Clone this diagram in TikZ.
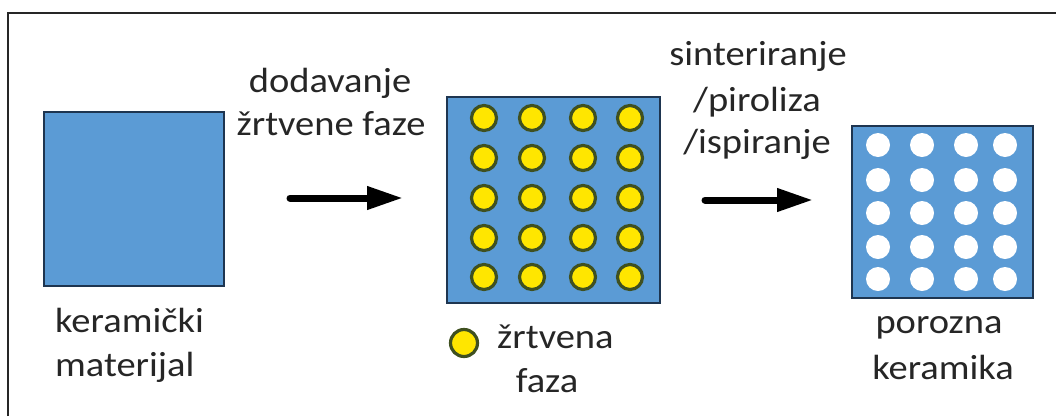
\documentclass[tikz,border=0pt]{standalone}
\usepackage{fontspec}
\setmainfont{Carlito}[FakeStretch=1.1]
\usetikzlibrary{arrows.meta}
\definecolor{ceramic}{HTML}{5B9BD5}
\definecolor{boxedge}{HTML}{1E3550}
\definecolor{sacfill}{HTML}{FFE600}
\definecolor{sacedge}{HTML}{3F5020}
\definecolor{txt}{HTML}{262626}
\tikzset{
  block/.style={fill=ceramic, draw=boxedge, line width=2.5pt},
  particle/.style={circle, fill=sacfill, draw=sacedge, line width=3.2pt, minimum size=25pt, inner sep=0pt},
  pore/.style={circle, fill=white, draw=none, minimum size=24pt, inner sep=0pt},
  lbl/.style={text=txt, font=\fontsize{35}{42}\selectfont, inner sep=0pt, anchor=base},
  flow/.style={line width=7pt, -{Triangle[length=36pt,width=22pt]}, line cap=round},
}
\begin{document}
\begin{tikzpicture}[x=1pt,y=-1pt]
\useasboundingbox (0,0) rectangle (1056,416);
% frame (top and left edges)
\draw[line width=2pt, draw=black!85] (8,416) -- (8,13) -- (1056,13);

% ceramic block
\node[block, minimum width=180pt, minimum height=174pt, inner sep=0pt] (b1) at (134,199) {};
% block with sacrificial phase
\node[block, minimum width=213pt, minimum height=206pt, inner sep=0pt] (b2) at (553.5,200) {};
\foreach \x [count=\i] in {484,532,583,630}{
  \foreach \y [count=\j] in {118,158,198,238,277}{
    \node[particle] (p\i\j) at (\x,\y) {};
  }
}
% porous ceramic
\node[block, minimum width=181pt, minimum height=172pt, inner sep=0pt] (b3) at (942.5,212) {};
\foreach \x [count=\i] in {878,922,966,1005}{
  \foreach \y [count=\j] in {145,180,213,247,279}{
    \node[pore] (h\i\j) at (\x,\y) {};
  }
}

% arrows
\coordinate (a1s) at (290,198);
\coordinate (a1e) at (403,198);
\coordinate (a2s) at (705,200);
\coordinate (a2e) at (813,200);
\draw[flow] (a1s) -- (a1e);
\draw[flow] (a2s) -- (a2e);

% labels
\node[lbl] (t1a) at (330,92) {dodavanje};
\node[lbl] (t1b) at (331,135) {žrtvene faze};
\node[lbl] (t2a) at (758,65) {sinteriranje};
\node[lbl] (t2b) at (757,111) {/piroliza};
\node[lbl] (t2c) at (757,153) {/ispiranje};
\node[lbl, anchor=base west] (t3a) at (55,332) {keramički};
\node[lbl, anchor=base west] (t3b) at (55,376) {materijal};
\node[particle, minimum size=27pt] (leg) at (464,343) {};
\node[lbl, anchor=base west] (t4a) at (497,348) {žrtvena};
\node[lbl] (t4b) at (547,392) {faza};
\node[lbl] (t5a) at (939,333) {porozna};
\node[lbl] (t5b) at (943,379) {keramika};
\end{tikzpicture}
\end{document}
